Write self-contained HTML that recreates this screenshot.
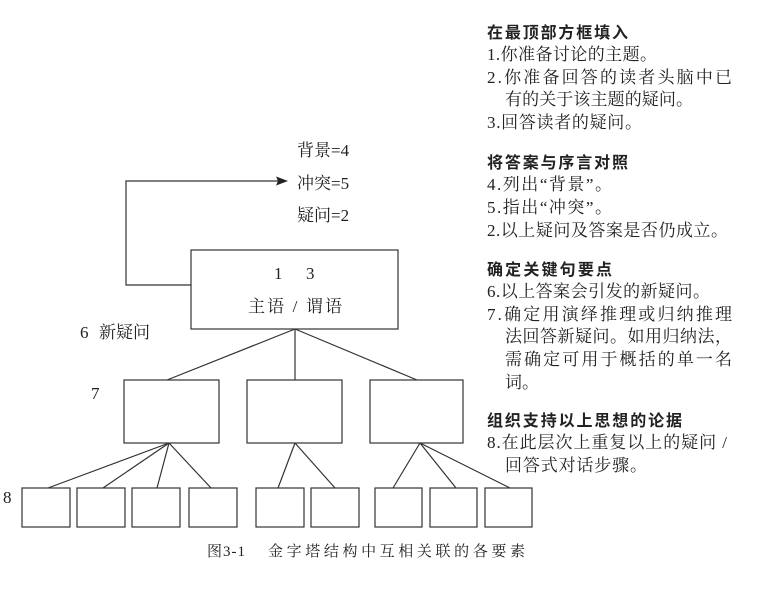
<!DOCTYPE html>
<html><head><meta charset="utf-8"><style>
html,body{margin:0;padding:0;background:#fff;}
svg{display:block;}
text{font-family:"Liberation Serif","Noto Serif CJK SC","Noto Sans CJK SC",serif;fill:#222;}
.h{font-family:"Liberation Sans","Noto Sans CJK SC",sans-serif;font-weight:bold;font-size:16px;}
.t{font-size:17px;}
</style></head><body>
<svg width="772" height="589" viewBox="0 0 772 589" xmlns="http://www.w3.org/2000/svg">
<g fill="none" stroke="#333" stroke-width="1.2">
<rect x="191" y="250" width="207" height="79"/>
<polyline points="191,285 126,285 126,181 280,181"/>
<rect x="124" y="380" width="95" height="63"/>
<rect x="247" y="380" width="95" height="63"/>
<rect x="370" y="380" width="93" height="63"/>
<line x1="295" y1="329" x2="167" y2="380"/>
<line x1="295" y1="329" x2="295" y2="380"/>
<line x1="295" y1="329" x2="417" y2="380"/>
<rect x="22" y="488" width="48" height="39"/>
<rect x="77" y="488" width="48" height="39"/>
<rect x="132" y="488" width="48" height="39"/>
<rect x="189" y="488" width="48" height="39"/>
<rect x="256" y="488" width="48" height="39"/>
<rect x="311" y="488" width="48" height="39"/>
<rect x="375" y="488" width="47" height="39"/>
<rect x="430" y="488" width="47" height="39"/>
<rect x="485" y="488" width="47" height="39"/>
<line x1="169" y1="443" x2="48" y2="488"/>
<line x1="169" y1="443" x2="103" y2="488"/>
<line x1="169" y1="443" x2="157" y2="488"/>
<line x1="169" y1="443" x2="211" y2="488"/>
<line x1="295" y1="443" x2="278" y2="488"/>
<line x1="295" y1="443" x2="335" y2="488"/>
<line x1="420" y1="443" x2="393" y2="488"/>
<line x1="420" y1="443" x2="456" y2="488"/>
<line x1="420" y1="443" x2="510" y2="488"/>
</g>
<polygon points="288,181 276,176.5 278,181 276,185.5" fill="#222"/>
<g>
<text x="297" y="156" font-size="17">背景=4</text>
<text x="297" y="189" font-size="17">冲突=5</text>
<text x="297" y="221" font-size="17">疑问=2</text>
<text x="274" y="279" font-size="17">1</text>
<text x="306" y="279" font-size="17">3</text>
<text x="248" y="312" font-size="17" textLength="94" lengthAdjust="spacing">主语 / 谓语</text>
<text x="80" y="338" font-size="17">6</text>
<text x="99" y="338" font-size="17">新疑问</text>
<text x="91" y="399" font-size="17">7</text>
<text x="3" y="503" font-size="17">8</text>
</g>
<text x="207" y="556" font-size="15" textLength="38" lengthAdjust="spacing">图3-1</text>
<text x="268" y="556" font-size="15" textLength="257" lengthAdjust="spacing">金字塔结构中互相关联的各要素</text>
<text class="h" x="487" y="38" textLength="141" lengthAdjust="spacing">在最顶部方框填入</text>
<text class="t" x="487" y="60" textLength="170" lengthAdjust="spacing">1.你准备讨论的主题。</text>
<text class="t" x="487" y="83" textLength="245" lengthAdjust="spacing">2.你准备回答的读者头脑中已</text>
<text class="t" x="505" y="105" textLength="188" lengthAdjust="spacing">有的关于该主题的疑问。</text>
<text class="t" x="487" y="128" textLength="155" lengthAdjust="spacing">3.回答读者的疑问。</text>
<text class="h" x="487" y="168" textLength="141" lengthAdjust="spacing">将答案与序言对照</text>
<text class="t" x="487" y="190" textLength="125" lengthAdjust="spacing">4.列出“背景”。</text>
<text class="t" x="487" y="213" textLength="125" lengthAdjust="spacing">5.指出“冲突”。</text>
<text class="t" x="487" y="236" textLength="241" lengthAdjust="spacing">2.以上疑问及答案是否仍成立。</text>
<text class="h" x="487" y="275" textLength="125" lengthAdjust="spacing">确定关键句要点</text>
<text class="t" x="487" y="297" textLength="223" lengthAdjust="spacing">6.以上答案会引发的新疑问。</text>
<text class="t" x="487" y="320" textLength="245" lengthAdjust="spacing">7.确定用演绎推理或归纳推理</text>
<text class="t" x="505" y="342" textLength="227" lengthAdjust="spacing">法回答新疑问。如用归纳法，</text>
<text class="t" x="505" y="365" textLength="227" lengthAdjust="spacing">需确定可用于概括的单一名</text>
<text class="t" x="505" y="388">词。</text>
<text class="h" x="487" y="426" textLength="195" lengthAdjust="spacing">组织支持以上思想的论据</text>
<text class="t" x="487" y="448" textLength="240" lengthAdjust="spacing">8.在此层次上重复以上的疑问 /</text>
<text class="t" x="505" y="471" textLength="142" lengthAdjust="spacing">回答式对话步骤。</text>
</svg>
</body></html>
